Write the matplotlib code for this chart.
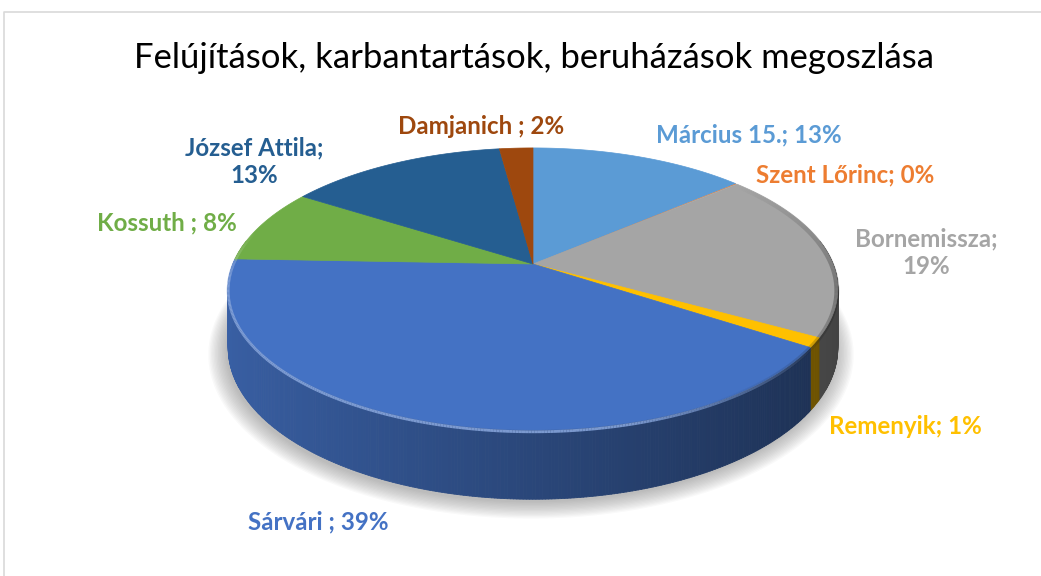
import numpy as np
import matplotlib.pyplot as plt
from matplotlib.collections import PolyCollection, LineCollection
from matplotlib.colors import to_rgb

# chart data
title = "Felújítások, karbantartások, beruházások megoszlása"
names = ["Március 15.", "Szent Lőrinc", "Bornemissza", "Remenyik",
         "Sárvári ", "Kossuth ", "József Attila", "Damjanich "]
shares = [13.6, 0.1, 19.5, 1.1, 41.3, 8.5, 13.8, 2.1]   # drawn slice sizes
pct_labels = ["13%", "0%", "19%", "1%", "39%", "8%", "13%", "2%"]
wrap = [False, False, True, False, False, False, True, False]
colors = ["#5B9BD5", "#ED7D31", "#A5A5A5", "#FFC000",
          "#4472C4", "#70AD47", "#255E91", "#9E480E"]

# label centres in pixels
label_x = [749, 845, 926, 905, 318, 167, 254, 481]
label_y = [135, 175, 253, 427, 522, 223, 162, 127]

# pie geometry (pixels), simple perspective
CX, CY = 533, 264
RX, RY = 300, 136.6
P = 0.177
DEPTH = 57

W, H = 1041, 576


def project(theta, drop=0.0):
    t = np.radians(theta)
    X = np.sin(t)
    Z = np.cos(t)
    s = 1.0 / (1.0 + P * Z)
    return CX + RX * X * s, CY - RY * Z * s + drop * s


def shade(color, f):
    r, g, b = to_rgb(color)
    return (r * f, g * f, b * f)


def lighten(color, f):
    r, g, b = to_rgb(color)
    return (r + (1 - r) * f, g + (1 - g) * f, b + (1 - b) * f)


fig = plt.figure(figsize=(W / 100, H / 100), dpi=100)
ax = fig.add_axes([0, 0, 1, 1])
ax.set_xlim(0, W)
ax.set_ylim(H, 0)
ax.axis("off")

# chart frame
ax.plot([4, 4, W], [H, 12, 12], color="#D9D9D9", lw=1.2)

# slice angles, clockwise from 12 o'clock
total = sum(shares)
bounds = np.concatenate([[0], np.cumsum(shares) / total * 360])

# soft shadow under the pie
th = np.linspace(0, 360, 361)
bx, by = project(th, DEPTH)
for k in range(14):
    e = k * 0.0045
    sx = CX - 2 + (bx - CX) * (1 + e)
    sy = 300 + (by - 300) * (1 + e * 1.4) + 3
    ax.fill(sx, sy, color="#7a7a7a", alpha=0.045, lw=0)

# side walls (front half), shaded left to right
polys, pcols = [], []
for i in range(len(shares)):
    a0 = max(bounds[i], 80)
    a1 = min(bounds[i + 1], 280)
    if a1 <= a0:
        continue
    n = max(2, int((a1 - a0) / 0.5))
    ts = np.linspace(a0, a1, n + 1)
    for ta, tb in zip(ts[:-1], ts[1:]):
        xa, ya = project(ta)
        xb, yb = project(tb)
        xa2, ya2 = project(ta, DEPTH)
        xb2, yb2 = project(tb, DEPTH)
        polys.append([(xa, ya), (xb, yb), (xb2, yb2), (xa2, ya2)])
        X = np.sin(np.radians((ta + tb) / 2))
        pcols.append(shade(colors[i], 0.62 - 0.22 * X))
ax.add_collection(PolyCollection(polys, facecolors=pcols, edgecolors=pcols,
                                 linewidths=0.6))

# top faces
for i in range(len(shares)):
    ts = np.linspace(bounds[i], bounds[i + 1], max(3, int(bounds[i + 1] - bounds[i]) * 2))
    x, y = project(ts)
    lw = 0.5 if shares[i] / total > 0.005 else 0
    ax.fill(np.r_[CX, x], np.r_[CY, y], color=colors[i], lw=lw,
            edgecolor=colors[i])

# bevel: light rim on the front, dark rim on the right
segs, scol = [], []
dsegs, dcol = [], []
for i in range(len(shares)):
    ts = np.linspace(bounds[i], bounds[i + 1], max(3, int((bounds[i + 1] - bounds[i]) * 2)))
    x, y = project(ts, 1.5)
    for j in range(len(ts) - 1):
        t = (ts[j] + ts[j + 1]) / 2
        a = np.clip((t - 120) / 45, 0, 1) * np.clip((285 - t) / 20, 0, 1)
        if a > 0:
            c = lighten(colors[i], 0.35)
            segs.append([(x[j], y[j]), (x[j + 1], y[j + 1])])
            scol.append((*c, 0.9 * a))
        d = np.clip(1 - abs(t - 100) / 50, 0, 1)
        if d > 0:
            dsegs.append([(x[j] - 1, y[j]), (x[j + 1] - 1, y[j + 1])])
            dcol.append((0.1, 0.1, 0.1, 0.35 * d))
ax.add_collection(LineCollection(dsegs, colors=dcol, linewidths=3.5))
ax.add_collection(LineCollection(segs, colors=scol, linewidths=2.0))

# title, sized to the reference width
renderer = fig.canvas.get_renderer()
tt = ax.text(534, 58, title, ha="center", va="center", fontsize=20,
             family="Lato", color="#000000")
bb = tt.get_window_extent(renderer)
tt.set_fontsize(20 * 800 / bb.width)

# data labels
texts = []
for i in range(len(shares)):
    sep = "\n" if wrap[i] else " "
    s = names[i] + ";" + sep + pct_labels[i]
    texts.append(ax.text(label_x[i], label_y[i], s, ha="center", va="center",
                         multialignment="center", fontsize=14, family="Lato",
                         fontweight="bold", color=colors[i], linespacing=1.25))
ref = texts[0].get_window_extent(renderer)
fs = 14 * 186 / ref.width
for t in texts:
    t.set_fontsize(fs)

fig.savefig("out.png", dpi=100)
